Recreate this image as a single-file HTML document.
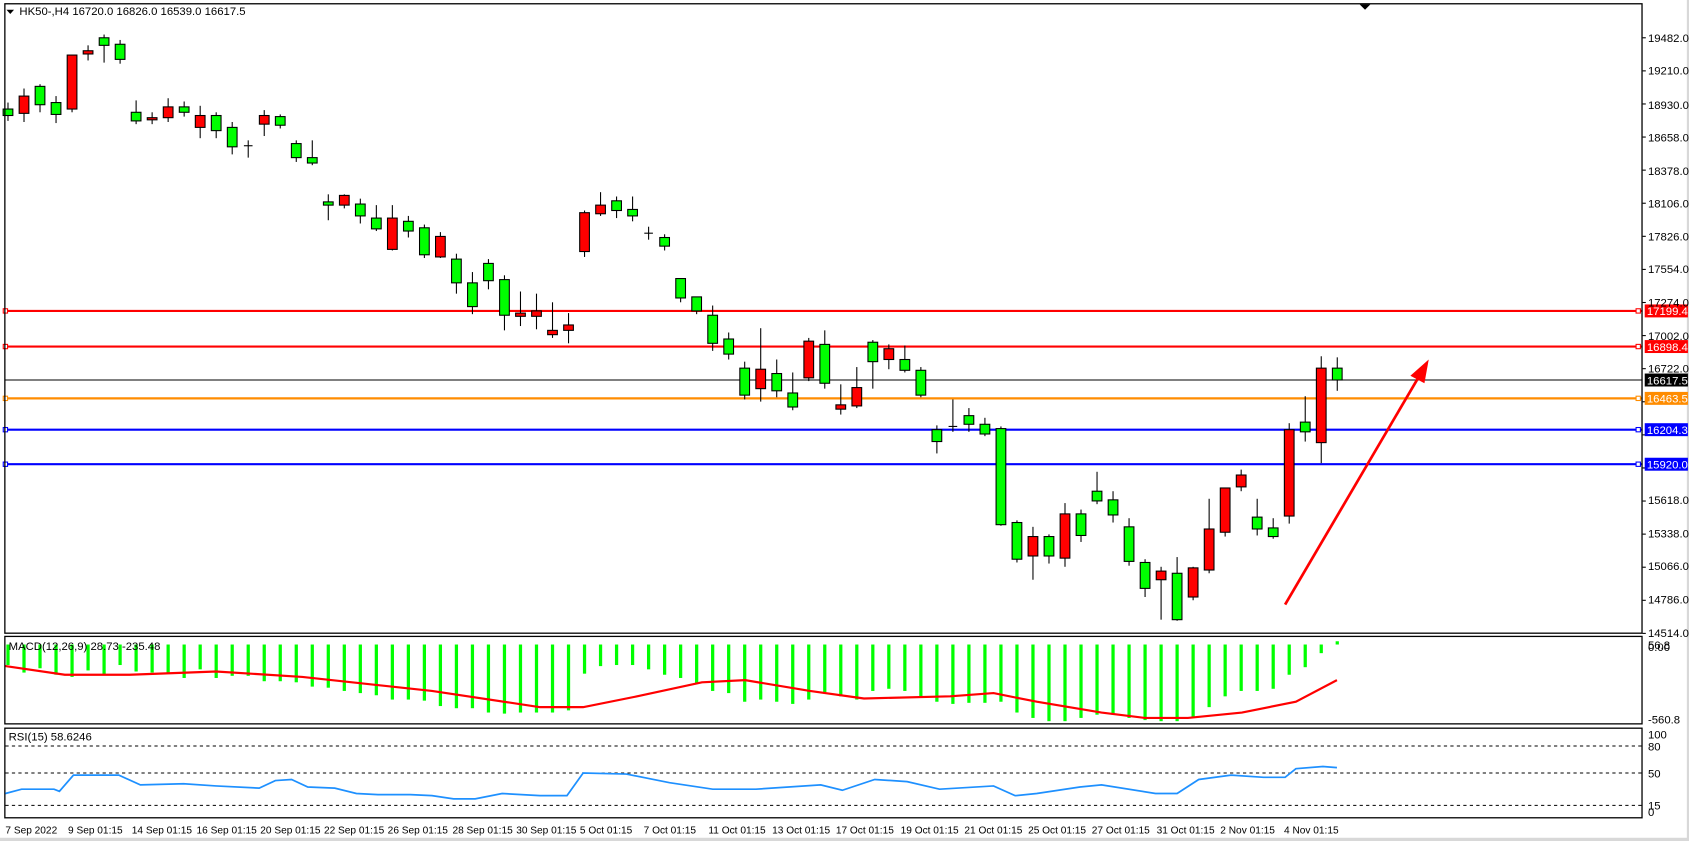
<!DOCTYPE html>
<html><head><meta charset="utf-8"><style>
html,body{margin:0;padding:0;background:#fff;overflow:hidden}
svg{display:block}
text{font-family:"Liberation Sans",sans-serif;font-size:10.5px;fill:#000}
#dates text{font-size:9.4px}
</style></head><body>
<svg id="s" width="1689" height="841" viewBox="0 0 1564 779" preserveAspectRatio="none" xmlns="http://www.w3.org/2000/svg">
<rect x="0" y="0" width="1564" height="779" fill="#fff"/>
<rect x="1562" y="0" width="2" height="779" fill="#d8d8d8"/>
<rect x="0" y="776" width="1564" height="3" fill="#d8d8d8"/>
<g id="lines"></g>
<g id="macd"></g>
<g id="cand"></g>
<g fill="none" stroke="#000" stroke-width="1.2">
<rect x="4.5" y="3.5" width="1516" height="583"/>
<rect x="4.5" y="589.5" width="1516" height="81"/>
<rect x="4.5" y="674.5" width="1516" height="83"/>
</g>
<polygon points="1259,4 1269,4 1264,9" fill="#000"/>
<polygon points="6,9 13,9 9.5,13" fill="#000"/>
<text x="18" y="14">HK50-,H4  16720.0 16826.0 16539.0 16617.5</text>
<text x="8" y="602">MACD(12,26,9) 28.73 -235.48</text>
<text x="8" y="686">RSI(15) 58.6246</text>
<g id="rsi"></g>
<g id="axis"></g>
<line x1="1190" y1="560" x2="1315" y2="347" stroke="#f00" stroke-width="2.5"/>
<polygon points="1323,333 1306,348 1319,355" fill="#f00"/>
<g>
<rect x="1523" y="282" width="40" height="12" fill="#f00"/><text x="1525" y="292" style="fill:#fff">17199.4</text>
<rect x="1523" y="315" width="40" height="12" fill="#f00"/><text x="1525" y="325" style="fill:#fff">16898.4</text>
<rect x="1523" y="346" width="40" height="12" fill="#000"/><text x="1525" y="356" style="fill:#fff">16617.5</text>
<rect x="1523" y="363" width="40" height="12" fill="#ff8c00"/><text x="1525" y="373" style="fill:#fff">16463.5</text>
<rect x="1523" y="392" width="40" height="12" fill="#00f"/><text x="1525" y="402" style="fill:#fff">16204.3</text>
<rect x="1523" y="424" width="40" height="12" fill="#00f"/><text x="1525" y="434" style="fill:#fff">15920.0</text>
</g>
<g id="dates">
<text x="5" y="772">7 Sep 2022</text>
<text x="63" y="772">9 Sep 01:15</text>
<text x="122" y="772">14 Sep 01:15</text>
<text x="182" y="772">16 Sep 01:15</text>
<text x="241" y="772">20 Sep 01:15</text>
<text x="300" y="772">22 Sep 01:15</text>
<text x="359" y="772">26 Sep 01:15</text>
<text x="419" y="772">28 Sep 01:15</text>
<text x="478" y="772">30 Sep 01:15</text>
<text x="537" y="772">5 Oct 01:15</text>
<text x="596" y="772">7 Oct 01:15</text>
<text x="656" y="772">11 Oct 01:15</text>
<text x="715" y="772">13 Oct 01:15</text>
<text x="774" y="772">17 Oct 01:15</text>
<text x="834" y="772">19 Oct 01:15</text>
<text x="893" y="772">21 Oct 01:15</text>
<text x="952" y="772">25 Oct 01:15</text>
<text x="1011" y="772">27 Oct 01:15</text>
<text x="1071" y="772">31 Oct 01:15</text>
<text x="1130" y="772">2 Nov 01:15</text>
<text x="1189" y="772">4 Nov 01:15</text>
</g>
<g id="plab">
<text x="1526" y="39">19482.0</text><text x="1526" y="69">19210.0</text><text x="1526" y="101">18930.0</text>
<text x="1526" y="131">18658.0</text><text x="1526" y="162">18378.0</text><text x="1526" y="192">18106.0</text>
<text x="1526" y="223">17826.0</text><text x="1526" y="253">17554.0</text><text x="1526" y="284">17274.0</text>
<text x="1526" y="315">17002.0</text><text x="1526" y="345">16722.0</text><text x="1526" y="467">15618.0</text>
<text x="1526" y="498">15338.0</text><text x="1526" y="528">15066.0</text><text x="1526" y="559">14786.0</text>
<text x="1526" y="590">14514.0</text>
<text x="1526" y="601">56.8</text><text x="1526" y="603">0.00</text><text x="1526" y="670">-560.8</text>
<text x="1526" y="684">100</text><text x="1526" y="695">80</text><text x="1526" y="720">50</text>
<text x="1526" y="750">15</text><text x="1526" y="756">0</text>
</g>
</svg>
<script>
var NS="http://www.w3.org/2000/svg";
function el(p,t,a){var e=document.createElementNS(NS,t);for(var k in a)e.setAttribute(k,a[k]);document.getElementById(p).appendChild(e);return e;}
[[288,"#f00",2],[321,"#f00",2],[352,"#000",1],[369,"#ff8c00",2],[398,"#00f",2],[430,"#00f",2]].forEach(function(l){
 el("lines","line",{x1:5,x2:1521,y1:l[0],y2:l[0],stroke:l[1],"stroke-width":l[2]});
 if(l[2]>1){el("lines","rect",{x:3,y:l[0]-2,width:4,height:4,fill:"#fff",stroke:l[1],"stroke-width":1});el("lines","rect",{x:1515,y:l[0]-2,width:4,height:4,fill:"#fff",stroke:l[1],"stroke-width":1});}
});
[691,716,746].forEach(function(y){el("lines","line",{x1:5,x2:1521,y1:y,y2:y,stroke:"#000","stroke-dasharray":"3,3","stroke-width":1});});
for(var y=35;y<590;y+=30.65)el("axis","line",{x1:1521,x2:1524,y1:y,y2:y,stroke:"#000"});
var C=[["g",101,107,95,112],["r",89,105,82,113],["g",80,97,78,104],["g",95,106,89,114],["r",51,101,51,104],["r",47,50,42,56],["g",35,42,32,58],["g",41,55,37,59],
["g",104,112,93,115],["r",109,111,104,115],["r",99,109,91,113],["g",99,104,94,108],["r",107,118,98,128],["g",107,121,104,128],["g",118,136,113,143],["d",135,136,130,146],["r",107,115,102,126],["g",108,116,106,119],["g",133,146,130,150],["g",146,151,130,153],
["g",187,190,180,204],["r",181,190,180,193],["g",189,200,184,207],["g",202,212,190,214],["r",202,231,190,232],["g",205,214,200,220],["g",211,236,208,239],["r",219,238,215,239],["g",240,262,235,272],["g",262,284,252,291],["g",244,260,240,268],["g",259,292,255,306],["r",290,293,270,302],["r",288,293,272,305],["r",306,310,280,313],["r",301,306,290,318],
["r",197,233,195,238],["r",190,198,178,200],["g",186,195,182,202],["g",194,200,182,205],["d",216,216,210,222],["g",220,228,217,232],["g",258,276,258,280],["g",275,288,275,291],["g",292,318,283,325],["g",314,328,308,333],["g",341,366,335,370],["r",342,360,304,372],["g",346,362,333,368],["g",364,377,345,380],["r",316,350,313,353],["g",319,355,306,360],["r",375,379,356,384],["r",359,376,340,378],["g",317,335,315,360],["r",323,333,319,342],["g",333,343,320,345],["g",343,366,340,368],
["g",398,409,394,420],["d",395,395,370,400],["g",385,393,378,400],["g",393,402,387,404],["g",397,486,395,487],["g",484,518,482,521],["r",497,515,488,537],["g",497,515,495,522],["r",476,517,466,525],["g",476,496,472,502],["g",455,464,437,467],["g",463,477,455,484],["g",488,520,480,524],["g",521,545,518,553],["r",529,537,525,574],["g",531,574,516,575],["r",526,553,525,556],["r",490,528,462,531],["r",452,493,452,497],["r",440,451,435,455],["g",479,490,462,496],["g",489,497,480,499],["r",398,478,392,485],["g",391,400,367,409],["r",341,410,330,429],["g",341,352,331,362]];
var sp=14.83,x0=7.4;
C.forEach(function(c,i){var x=x0+sp*i;
 el("cand","line",{x1:x,x2:x,y1:c[3],y2:c[4],stroke:"#000","stroke-width":1});
 if(c[0]=="d"){el("cand","line",{x1:x-4,x2:x+4,y1:c[1],y2:c[1],stroke:"#000","stroke-width":1});}
 else{var h=Math.max(c[2]-c[1],2);el("cand","rect",{x:x-4.5,y:c[1],width:9,height:h,fill:c[0]=="g"?"#00ff00":"#ff0000",stroke:"#000","stroke-width":1});}
});
var HB=[616,623,619,625,627,621,625,616,622,623,624,628,620,628,626,626,631,631,632,636,637,640,642,644,648,648,649,654,656,656,660,661,660,660,660,658,
624,617,616,616,620,625,628,633,640,642,650,648,650,652,648,641,645,648,640,638,640,645,650,652,651,651,650,660,665,668,668,665,662,662,665,667,668,668,665,655,645,640,640,638,625,618,605,594];
HB.forEach(function(b,i){var x=x0+sp*i;var y1=Math.min(597,b),y2=Math.max(597,b);el("macd","rect",{x:x-1.5,y:y1,width:3,height:y2-y1,fill:"#00ff00"});});
var sig=[[5,617],[60,625],[120,625],[200,622],[280,627],[400,640],[500,655],[540,655],[590,645],[650,632],[690,630],[750,640],[800,647],[880,645],[920,642],[960,650],[1020,660],[1060,665],[1100,665],[1150,660],[1200,650],[1238,630]];
el("macd","polyline",{points:sig.map(function(p){return p.join(",")}).join(" "),fill:"none",stroke:"#f00","stroke-width":2});
var r=[[5,735],[20,731],[50,731],[55,733],[68,718],[110,718],[130,727],[170,726],[200,728],[240,730],[255,723],[270,722],[285,729],[310,730],[330,735],[350,736],[380,736],[400,737],[420,740],[440,740],[465,735],[500,737],[525,737],[540,716],[580,717],[620,725],[660,731],[700,731],[760,727],[780,732],[810,722],[840,724],[870,731],[920,728],[940,737],[960,735],[1000,729],[1020,727],[1070,735],[1090,735],[1110,722],[1140,718],[1170,720],[1190,720],[1200,712],[1225,710],[1238,711]];
el("rsi","polyline",{points:r.map(function(p){return p.join(",")}).join(" "),fill:"none",stroke:"#1e90ff","stroke-width":1.6});
</script>
</body></html>
